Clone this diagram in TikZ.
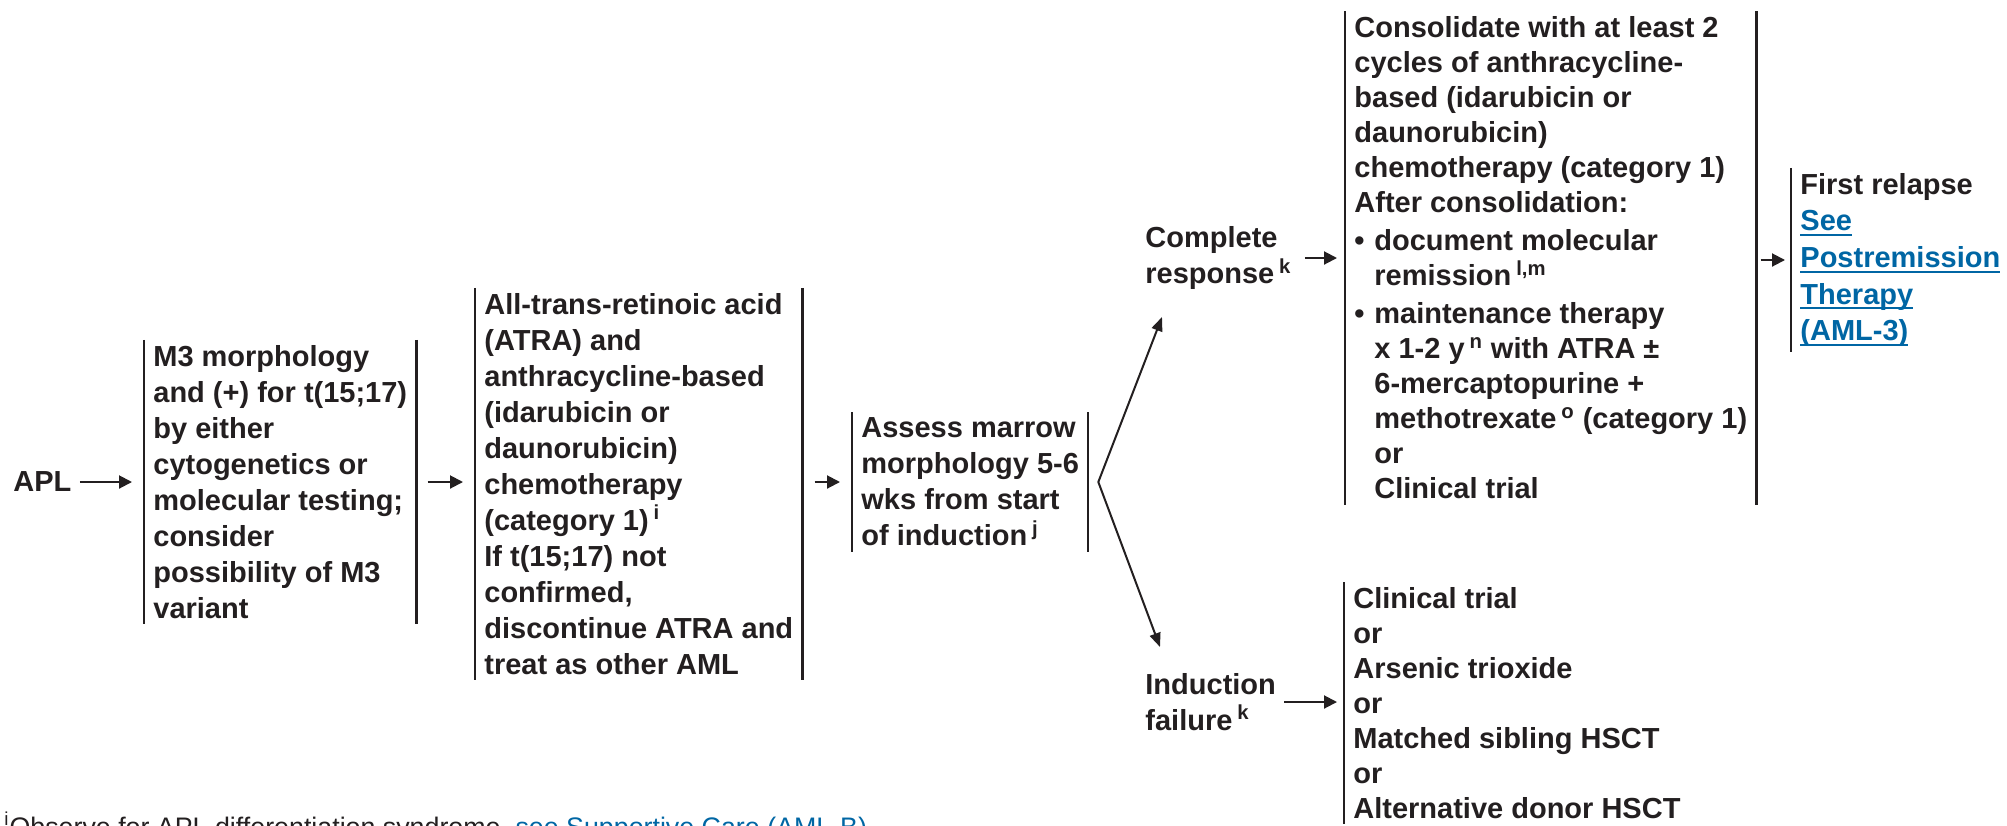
\documentclass[tikz,border=0pt]{standalone}
\usepackage{fontspec}
\setmainfont{Liberation Sans}
\definecolor{nccnText}{RGB}{35,31,32}
\definecolor{nccnBlue}{RGB}{0,102,164}
\usetikzlibrary{arrows.meta,positioning}

\newcommand{\fnmark}[1]{\,\textsuperscript{#1}}
\newcommand{\linkline}[1]{{\color{nccnBlue}\setbox0\hbox{#1}\rlap{\rule[-2.6pt]{\wd0}{1pt}}\box0}}

\begin{document}
\begin{tikzpicture}[
  x=0.5pt, y=-0.5pt,
  every node/.style={text=nccnText, font=\fontsize{14.5}{18}\selectfont\bfseries},
  box/.style={inner xsep=4.5pt, inner ysep=2.5pt, align=left},
  tight/.style={font=\fontsize{14.5}{17.5}\selectfont\bfseries},
  lbl/.style={inner sep=0pt, align=left},
  bar/.style={line width=1.15pt, draw=nccnText},
  arr/.style={-{Triangle[length=6.5pt,width=6.5pt]}, line width=1pt, draw=nccnText},
  fork/.style={{Triangle[length=7pt,width=5.5pt]}-{Triangle[length=7pt,width=5.5pt]}, line width=1pt, draw=nccnText}
]
  \useasboundingbox (0,0) rectangle (2007,825);

  % induction row
  \node[lbl, anchor=west] (apl) at (13,482) {APL};
  \node[box, anchor=west] (m3) at (144,482) {M3 morphology\\and (+) for t(15;17)\\by either\\cytogenetics or\\molecular testing;\\consider\\possibility of M3\\variant};
  \node[box, anchor=west] (atra) at (475,484) {All-trans-retinoic acid\\(ATRA) and\\anthracycline-based\\(idarubicin or\\daunorubicin)\\chemotherapy\\(category 1)\fnmark{i}\\If t(15;17) not\\confirmed,\\discontinue ATRA and\\treat as other AML};
  \node[box, anchor=west] (assess) at (852,482) {Assess marrow\\morphology 5-6\\wks from start\\of induction\fnmark{j}};

  % response branches
  \node[lbl, anchor=west] (cr) at (1145,258) {Complete\\response\fnmark{k}};
  \node[lbl, anchor=west] (fail) at (1145,702) {Induction\\failure\fnmark{k}};

  \node[box, tight, anchor=west] (consol) at (1345,258) {Consolidate with at least 2\\cycles of anthracycline-\\based (idarubicin or\\daunorubicin)\\chemotherapy (category 1)\\After consolidation:\\[1.5pt]\makebox[10pt][l]{\textbullet}document molecular\\\hspace*{10pt}remission\fnmark{l,m}\\[1.5pt]\makebox[10pt][l]{\textbullet}maintenance therapy\\\hspace*{10pt}x 1-2 y\fnmark{n} with ATRA ±\\\hspace*{10pt}6-mercaptopurine +\\\hspace*{10pt}methotrexate\fnmark{o} (category 1)\\\hspace*{10pt}or\\\hspace*{10pt}Clinical trial};
  \node[box, anchor=west, font=\fontsize{14.5}{18.3}\selectfont\bfseries] (relapse) at (1791,260) {First relapse\\\linkline{See}\\\linkline{Postremission}\\\linkline{Therapy}\\\linkline{(AML-3)}};
  \node[box, tight, anchor=north west] (salvage) at (1344,582) {Clinical trial\\or\\Arsenic trioxide\\or\\Matched sibling HSCT\\or\\Alternative donor HSCT};

  \node[anchor=base west, inner sep=0pt, font=\fontsize{13.4}{16}\selectfont\mdseries] (note) at (4,836) {\textsuperscript{i}Observe for APL differentiation syndrome, \textcolor{nccnBlue}{see Supportive Care (AML-B)}};

  % bars
  \foreach \n in {m3,atra,assess,consol}
    \draw[bar] (\n.north west) -- (\n.south west) (\n.north east) -- (\n.south east);
  \foreach \n in {relapse,salvage}
    \draw[bar] (\n.north west) -- (\n.south west);

  % arrows
  \draw[arr, shorten <=4pt, shorten >=6pt] (apl.east) -- (apl.east -| m3.west);
  \draw[arr, shorten <=5.5pt, shorten >=6pt] (m3.east) -- (m3.east -| atra.west);
  \draw[arr, shorten <=6pt, shorten >=6pt] (atra.east |- assess.west) -- (assess.west);
  \coordinate[right=5pt of assess.east] (split);
  \coordinate (crin) at (1162,317);
  \coordinate (failin) at (1160,647);
  \draw[fork] (crin) -- (split) -- (failin);
  \draw[arr, shorten <=6.5pt, shorten >=4pt] (cr.east) -- (cr.east -| consol.west);
  \draw[arr, shorten <=2pt, shorten >=3pt] (consol.east |- relapse.west) -- (relapse.west);
  \draw[arr, shorten <=4pt, shorten >=3.5pt] (fail.east) -- (fail.east -| salvage.west);
\end{tikzpicture}
\end{document}
